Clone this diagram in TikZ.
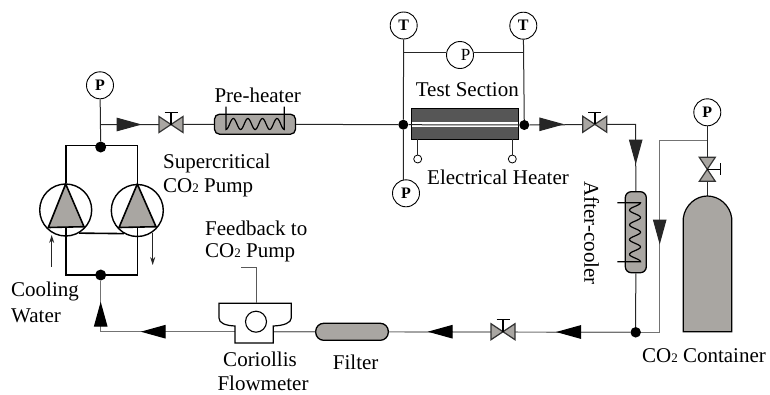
\documentclass[tikz,border=0pt]{standalone}
\usepackage{fontspec}
\setmainfont{Liberation Serif}
\usetikzlibrary{arrows.meta}
\newcommand{\cotwo}{CO{\fontsize{13}{13}\selectfont 2}}
\newcommand{\hvalve}[1]{
  \draw[bowtie,shift={(#1)}] (-12,-8) -- (12,8) -- (12,-8) -- (-12,8) -- cycle;
  \draw[line width=1.4pt,shift={(#1)}] (0,0) -- (0,-12) (-6.5,-12) -- (6.5,-12);}
\newcommand{\vvalve}[1]{
  \draw[bowtie,shift={(#1)}] (-8,-12) -- (8,12) -- (-8,12) -- (8,-12) -- cycle;
  \draw[line width=1.4pt,shift={(#1)}] (0,0) -- (13,0) (13,-6) -- (13,6);}
\tikzset{
  pipe/.style={line width=1pt,black!85},
  oldpipe/.style={line width=1.2pt,black!55},
  thick line/.style={line width=1.6pt},
  bowtie/.style={line width=1.2pt,fill=vessel,draw=black!80},
  flow/.style={pipe,-{Triangle[length=25pt,width=13.5pt]}},
  flowb/.style={oldpipe,-{Triangle[length=25pt,width=13.5pt,color=black]}},
  gauge/.style={circle,draw,line width=0.9pt,fill=white,minimum size=27pt,inner sep=0pt,font=\fontsize{16}{16}\selectfont\bfseries},
  junction/.style={circle,fill=black,minimum size=#1,inner sep=0pt},
  junction/.default=11pt,
  vesselbox/.style={draw,line width=1.3pt,fill=vessel,rounded corners=#1,inner sep=0pt},
  pumpcircle/.style={circle,draw,line width=1.4pt,minimum size=52pt,inner sep=0pt},
  heaterpin/.style={circle,draw,line width=0.8pt,fill=white,minimum size=8pt,inner sep=0pt},
  lbl/.style={inner sep=0pt,font=\fontsize{21}{25}\selectfont},
}
\definecolor{vessel}{HTML}{A9A6A2}
\definecolor{testgray}{HTML}{565656}
\begin{document}
\begin{tikzpicture}[x=1pt,y=-1pt]
  \useasboundingbox (0,0) rectangle (770,394);
% Pumps
  \node[pumpcircle] (pl) at (65.7,210) {};
  \node[pumpcircle] (pr) at (137.3,210.5) {};
  \draw[thick line,fill=vessel] (65.7,184) -- (48.3,227.5) -- (84,226.7) -- cycle;
  \draw[thick line,fill=vessel] (137.3,184) -- (119,227.5) -- (156,226.7) -- cycle;
  \node[junction] (jtop) at (100.7,147) {};
  \node[junction] (jbot) at (100.7,275) {};
  \coordinate (bl) at (65.7,227);
  \coordinate (br) at (137.3,227);
  \draw[thick line] (jtop.center) ++(0,-1.5) -| (pl);
  \draw[thick line] (jtop.center) ++(0,-1.5) -| (pr);
  \draw[thick line] (jbot.center) -| (bl);
  \draw[thick line] (jbot.center) -| (br);
  \draw[thick line] (pl.-60) -- (pr.-120);
% Upper line
  \node[gauge] (pa) at (100,85.3) {P};
  \coordinate (tee) at (100.7,124.5);
  \draw[pipe] (pa) -- (jtop);
  \coordinate (fa) at (116.7,124.5);
  \coordinate (fb) at (141.7,124.5);
  \coordinate (va) at (171,124.5);
  \node[vesselbox=5pt,minimum width=81pt,minimum height=20pt] (preheater) at (255,124.2) {};
  \draw[pipe] (tee) -- (va) -- (preheater);
  \draw[flow] (fa) -- (fb);
  \hvalve{va}
  \draw[line width=1.2pt] (226,106.7) -- (226,124) -- plot[domain=226:284.3,samples=70] (\x,{124+5.5*cos(24.7*(\x-226))}) -- (284.3,106.7);
% Test section
  \node[draw,line width=0.8pt,fill=testgray,minimum width=107pt,minimum height=30.7pt,inner sep=0pt] (test) at (464.8,123.7) {};
  \node[fill=white,draw=none,minimum width=106pt,minimum height=4.6pt,inner sep=0pt] (stripe) at (464.8,124.6) {};
  \node[junction=10pt] (ja) at (403.3,124.7) {};
  \node[junction=10pt] (jb) at (524.3,125) {};
  \draw[pipe] (preheater) -- (ja) -- (jb);
  \node[gauge] (ta) at (403.7,25.5) {T};
  \node[gauge] (tb) at (523.3,25.7) {T};
  \node[gauge] (pb) at (406,193.3) {P};
  \node[gauge,font=\fontsize{17}{17}\selectfont] (pc) at (460,55) {\hspace{11pt}P};
  \coordinate (pbtop) at (403.3,180.3);
  \draw[pipe] (ta) -- (ja) -- (pbtop);
  \draw[pipe] (tb) -- (jb);
  \coordinate (tap) at (403.3,52.3);
  \coordinate (tbp) at (524,52.3);
  \draw[pipe] (tap) -- (pc.west |- tap);
  \draw[pipe] (pc.east |- tbp) -- (tbp);
  \node[heaterpin] (ha) at (417.7,159) {};
  \node[heaterpin] (hb) at (512.3,159) {};
  \draw[pipe] (ha) -- (ha |- test.south);
  \draw[pipe] (hb) -- (hb |- test.south);
% Line to the after-cooler
  \coordinate (fc) at (539.3,124.3);
  \coordinate (fd) at (564.3,124.3);
  \coordinate (vb) at (594.8,124.3);
  \coordinate (bend) at (635.7,124.3);
  \coordinate (fe) at (635.7,140);
  \coordinate (ff) at (635.7,164.5);
  \node[vesselbox=6pt,minimum width=21pt,minimum height=81pt] (cooler) at (635.8,232.2) {};
  \node[junction=10.5pt] (jc) at (635.7,332.3) {};
  \draw[pipe] (jb) -- (bend) -- (cooler);
  \draw[pipe] (cooler) -- (jc);
  \draw[flow] (fc) -- (fd);
  \draw[flow] (fe) -- (ff);
  \hvalve{vb}
  \draw[line width=1.2pt] (617.3,202.7) -- (640,202.7) -- plot[domain=202.7:261.7,samples=70] ({635+5.5*cos(24.4*(\x-202.7))},\x) -- (617.3,261.7);
% Container
  \node[gauge] (pd) at (707.3,112.3) {P};
  \coordinate (vc) at (707.3,169.3);
  \coordinate (top) at (707.3,196);
  \coordinate (corner) at (659.7,332.3);
  \coordinate (ctee) at (707.3,140.3);
  \draw[pipe] (pd) -- (top);
  \draw[oldpipe] (jc) -- (corner) -- (659.7,140.3) -- (ctee);
  \coordinate (fg) at (659.7,220);
  \coordinate (fh) at (659.7,244.5);
  \draw[flow] (fg) -- (fh);
  \vvalve{vc}
  \draw[line width=1.2pt,fill=vessel] (683.3,331.7) -- (683.3,218) .. controls (685,205) and (696,196) .. (707.3,196) .. controls (719,196) and (730,205) .. (731.7,218) -- (731.7,331.7) -- cycle;
% Bottom line
  \node[vesselbox=8pt,minimum width=72.6pt,minimum height=17pt] (filter) at (352,331.8) {};
  \coordinate (vd) at (503,331.7);
  \coordinate (fi) at (452.7,331.7);
  \coordinate (fj) at (427.7,331.7);
  \coordinate (fk) at (580,332);
  \coordinate (fl) at (556,332);
  \coordinate (fm) at (165,331.7);
  \coordinate (fn) at (140.7,331.7);
  \coordinate (fo) at (100.7,324.3);
  \coordinate (fp) at (100.7,301.7);
  \coordinate (cleft) at (235,331.7);
  \coordinate (cright) at (273,331.7);
  \coordinate (elbow) at (100.7,331.7);
  \draw[oldpipe] (jc) -- (filter);
  \draw[oldpipe] (filter) -- (cright);
  \draw[oldpipe] (cleft) -- (elbow) -- (jbot);
  \draw[flowb] (fk) -- (fl);
  \draw[flowb] (fi) -- (fj);
  \draw[flowb] (fm) -- (fn);
  \draw[flowb] (fo) -- (fp);
  \hvalve{vd}
% Flowmeter
  \draw[line width=1.2pt,fill=white] (219,303.3) -- (291.3,303.3) -- (291.3,318) .. controls (291,323) and (284,325.5) .. (273.3,326) -- (273.3,343) -- (235,343) -- (235,326) .. controls (225,325.5) and (219,323) .. (219,318) -- cycle;
  \node[circle,draw,line width=1.1pt,minimum size=21pt,inner sep=0pt] (meter) at (256,321.7) {};
  \coordinate (fbtop) at (256,303.3);
  \coordinate (fbend) at (240.7,267.7);
  \draw[line width=1pt,black!65] (fbtop) |- (fbend);
% Cooling water
  \coordinate (wa) at (51.7,266.7);
  \coordinate (wb) at (51.7,235);
  \coordinate (wc) at (152.7,233);
  \coordinate (wd) at (152.7,265);
  \draw[pipe,-{Stealth[length=8pt,width=5pt]}] (wa) -- (wb);
  \draw[pipe,-{Stealth[length=8pt,width=5pt]}] (wc) -- (wd);
% Labels
  \node[lbl] (lpre) at (257.7,95) {Pre-heater};
  \node[lbl] (ltest) at (467.3,90) {Test Section};
  \node[lbl,anchor=west] (lheater) at (427,177) {Electrical Heater};
  \node[lbl,anchor=west] (lsuper) at (163,163) {Supercritical};
  \node[lbl,anchor=west] (lpump) at (163,187.7) {\cotwo{} Pump};
  \node[lbl,anchor=west] (lfeed) at (205,228) {Feedback to};
  \node[lbl,anchor=west] (lfpump) at (205,253) {\cotwo{} Pump};
  \node[lbl,anchor=west] (lcool) at (11,291) {Cooling};
  \node[lbl,anchor=west] (lwater) at (11,316) {Water};
  \node[lbl] (lcor) at (260,359) {Coriollis};
  \node[lbl] (lflow) at (263,383) {Flowmeter};
  \node[lbl] (lfilter) at (355.7,362) {Filter};
  \node[lbl,rotate=-90] (lafter) at (591.7,233) {After-cooler};
  \node[lbl] (lcont) at (704,356) {\cotwo{} Container};
\end{tikzpicture}
\end{document}
